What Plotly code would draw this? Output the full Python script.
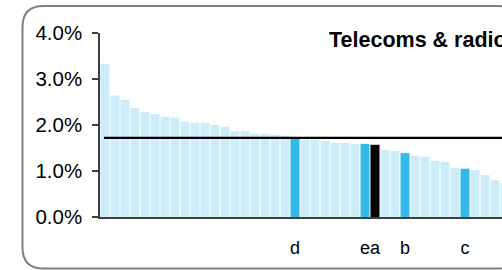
import plotly.graph_objects as go

# ---- data ----
values = [3.33, 2.64, 2.55, 2.37, 2.29, 2.24, 2.18, 2.16, 2.07, 2.05,
          2.05, 2.00, 1.96, 1.87, 1.87, 1.81, 1.81, 1.79, 1.77, 1.71,
          1.68, 1.68, 1.66, 1.61, 1.61, 1.59, 1.59, 1.57, 1.46, 1.44,
          1.39, 1.33, 1.31, 1.22, 1.20, 1.07, 1.05, 1.02, 0.91, 0.80, 0.74]
highlight_idx = [19, 26, 30, 36]
black_idx = [27]
label_idx = [19, 26, 27, 30, 36]
label_text = ["d", "e", "a", "b", "c"]
average = 1.72
ytick_vals = [0, 1, 2, 3, 4]
ytick_text = ["0.0%", "1.0%", "2.0%", "3.0%", "4.0%"]
title_text = "Telecoms & radio"

LIGHT = "#CCECF8"
DARK = "#33BAE9"
colors = []
for i in range(len(values)):
    if i in black_idx:
        colors.append("#000000")
    elif i in highlight_idx:
        colors.append(DARK)
    else:
        colors.append(LIGHT)

W, H = 502, 270
ML, MR, MT, MB = 100, 0, 33, 53
PW, PH = W - ML - MR, H - MT - MB

def px(x):
    return (x - ML) / PW

def py(y):
    return (H - MB - y) / PH

fig = go.Figure()
fig.add_trace(go.Bar(x=list(range(len(values))), y=values,
                     marker=dict(color=colors, line=dict(width=0)),
                     hoverinfo="skip"))
fig.add_trace(go.Scatter(x=[-0.1, len(values)], y=[average, average],
                         mode="lines", line=dict(color="#000000", width=2.2),
                         hoverinfo="skip"))

# rounded border (extends past the right edge)
L, T, R, B, r = 22.5, 6, 519, 268.5, 21
path = (f"M {px(L+r)},{py(T)} L {px(R-r)},{py(T)} Q {px(R)},{py(T)} {px(R)},{py(T+r)} "
        f"L {px(R)},{py(B-r)} Q {px(R)},{py(B)} {px(R-r)},{py(B)} "
        f"L {px(L+r)},{py(B)} Q {px(L)},{py(B)} {px(L)},{py(B-r)} "
        f"L {px(L)},{py(T+r)} Q {px(L)},{py(T)} {px(L+r)},{py(T)} Z")
fig.add_shape(type="path", path=path, xref="paper", yref="paper",
              line=dict(color="#808080", width=2), layer="below")

fig.add_annotation(text=f"<b>{title_text}</b>", xref="paper", yref="paper",
                   x=px(327), y=py(40), xanchor="left", yanchor="middle",
                   showarrow=False, font=dict(family="Arial", size=21.5, color="#000000"))

fig.update_layout(
    width=W, height=H,
    margin=dict(l=ML, r=MR, t=MT, b=MB),
    paper_bgcolor="white", plot_bgcolor="white",
    showlegend=False, bargap=0.1,
    font=dict(family="Arial", color="#000000"),
)
fig.update_xaxes(range=[-0.5, -0.5 + PW / 10], showgrid=False, zeroline=False,
                 showline=True, linecolor="#404040", linewidth=1.5,
                 ticks="", tickvals=label_idx, ticktext=label_text, tickangle=0,
                 tickfont=dict(size=18), ticklabelstandoff=14)
fig.update_yaxes(range=[0, 4], tickvals=ytick_vals, ticktext=ytick_text,
                 showgrid=False, zeroline=False, showline=True,
                 linecolor="#404040", linewidth=1.5, ticks="outside", ticklen=6,
                 tickcolor="#404040", tickwidth=1.5, tickfont=dict(size=20.5),
                 ticklabelstandoff=6)

fig.write_html("out.html", config={"displayModeBar": False},
               post_script="document.body.style.margin='0';document.body.style.overflow='hidden';")
